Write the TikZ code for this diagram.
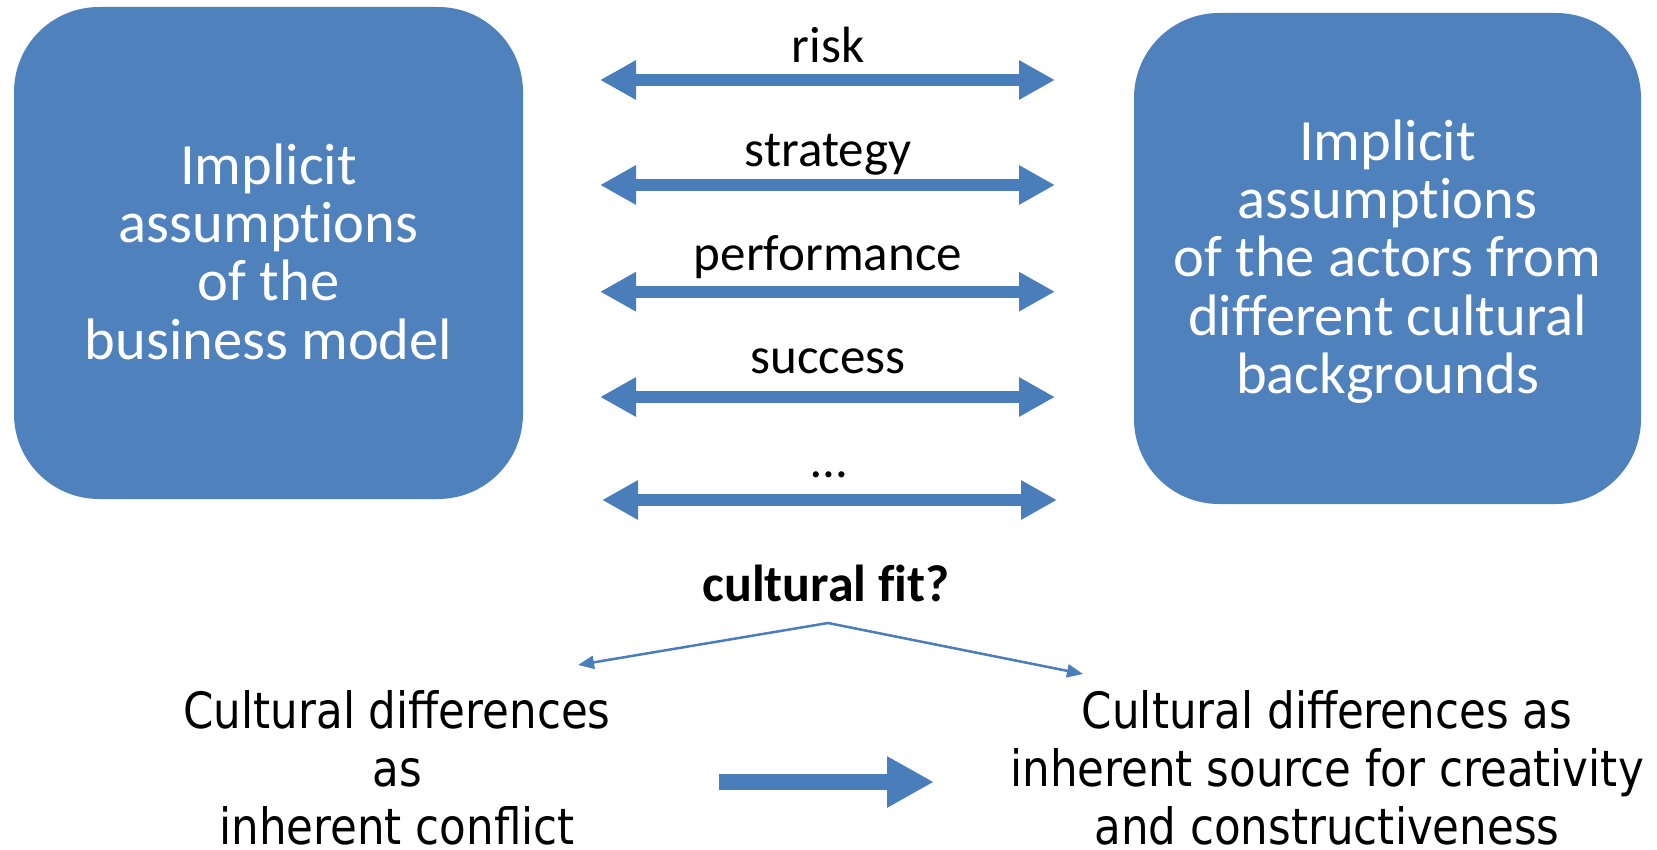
\documentclass[tikz,border=0pt]{standalone}
\usepackage{fontspec}
\setmainfont{Carlito}[Ligatures={NoCommon}]
\newfontfamily\botfont[FakeStretch=0.872]{DejaVu Sans}
\usetikzlibrary{arrows.meta}
\definecolor{boxblue}{HTML}{4F81BD}
\definecolor{arrblue}{HTML}{4A7EBB}
\tikzset{
  bluebox/.style={draw=none, fill=boxblue, rounded corners=85pt, inner sep=0pt},
  boxtext/.style={text=white, align=center, inner sep=0pt, font=\fontsize{58.5}{58.2}\selectfont},
  midlabel/.style={anchor=base, inner sep=0pt, font=\fontsize{51}{51}\selectfont},
  bottext/.style={align=center, inner sep=0pt, font=\botfont\fontsize{50}{58}\selectfont},
  dblarrow/.style={line width=12.3pt, draw=arrblue,
    {Triangle[length=36pt,width=37pt]}-{Triangle[length=36pt,width=37pt]}},
  thinarrow/.style={line width=2.5pt, draw=arrblue, -{Triangle[length=16pt,width=13pt]}},
  fatarrow/.style={line width=16.5pt, draw=arrblue, -{Triangle[length=47pt,width=48pt]}}
}
\begin{document}
\begin{tikzpicture}[x=1pt,y=-1pt]
\useasboundingbox (0,0) rectangle (1657,850);
% boxes
\node[bluebox, minimum width=509pt, minimum height=492pt] (lbox) at (268.5,253) {};
\node[bluebox, minimum width=507pt, minimum height=491pt] (rbox) at (1387.5,258.5) {};
\node[boxtext] (ltext) at (268.5,251.8) {Implicit\\assumptions\\of the\\business model};
\node[boxtext] (rtext) at (1387.5,261.7) {Implicit\\assumptions\\of the actors from\\different cultural\\backgrounds};
% middle arrows
\coordinate (a1l) at (600,80);   \coordinate (a1r) at (1055,80);
\coordinate (a2l) at (600,185);  \coordinate (a2r) at (1055,185);
\coordinate (a3l) at (600,291.7);\coordinate (a3r) at (1055,291.7);
\coordinate (a4l) at (600,397);  \coordinate (a4r) at (1055,397);
\coordinate (a5l) at (602,500);  \coordinate (a5r) at (1057,500);
\draw[dblarrow] (a1l) -- (a1r);
\draw[dblarrow] (a2l) -- (a2r);
\draw[dblarrow] (a3l) -- (a3r);
\draw[dblarrow] (a4l) -- (a4r);
\draw[dblarrow] (a5l) -- (a5r);
\node[midlabel] (risk) at (828,63) {risk};
\node[midlabel] (strategy) at (828,167) {strategy};
\node[midlabel] (perf) at (828,271) {performance};
\node[midlabel] (succ) at (828,373) {success};
\node[midlabel] (dots) at (829,477) {…};
% cultural fit
\node[anchor=base, inner sep=0pt, font=\bfseries\fontsize{52}{52}\selectfont] (fit) at (826,601) {cultural fit?};
\coordinate (apex) at (828,623);
\coordinate (ltip) at (578,665);
\coordinate (rtip) at (1083,674);
\draw[thinarrow] (apex) -- (ltip);
\draw[thinarrow] (apex) -- (rtip);
% bottom
\node[bottext] (conflict) at (397,768) {Cultural differences\\as\\inherent conflict};
\node[bottext] (creative) at (1327,768) {Cultural differences as\\inherent source for creativity\\and constructiveness};
\coordinate (fs) at (719,782);
\coordinate (fe) at (934,782);
\draw[fatarrow] (fs) -- (fe);
\end{tikzpicture}
\end{document}
